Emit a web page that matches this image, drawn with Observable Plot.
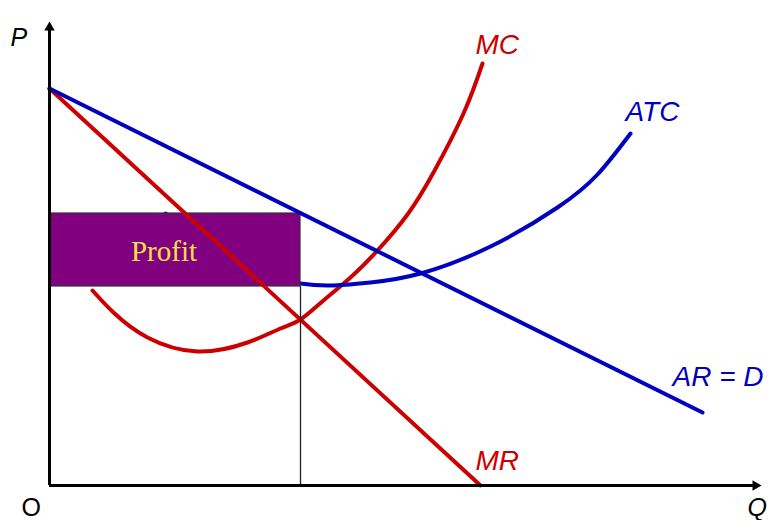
<!DOCTYPE html>
<html>
<head>
<meta charset="utf-8">
<script src="https://cdn.jsdelivr.net/npm/d3@7"></script>
<script src="https://cdn.jsdelivr.net/npm/@observablehq/plot@0.6"></script>
<style>
  html, body { margin: 0; padding: 0; background: #ffffff; }
  #chart { width: 769px; height: 520px; overflow: hidden; }
</style>
</head>
<body>
<div id="chart"></div>
<script>
// Quantity (Q) and price (P) values
const arQ = [0, 65.3];
const arP = [39.7, 7.3];

const mrQ = [0, 43.1];
const mrP = [39.7, 0];

const mcQ = [4.3, 6.4, 9.8, 14.8, 19.8, 23.1, 25.1, 27.4, 30.1, 32.8, 35.8, 38.4, 41.4, 43.3];
const mcP = [19.5, 17.3, 14.8, 13.4, 14.3, 15.7, 16.6, 18.5, 20.8, 23.5, 27.1, 31.3, 37.2, 42.2];

const atcQ = [11.6, 15.1, 20.1, 25.1, 28.4, 32.1, 37.1, 44.1, 50.8, 54.8, 58.1];
const atcP = [27.2, 24.2, 21.5, 20.2, 20.0, 20.3, 21.2, 23.9, 27.8, 31.1, 35.2];

// Profit-maximising output and price / average cost
const qStar = 25.1;
const priceStar = 27.2;
const atcStar = 19.9;

// Axis extents
const qMax = 71.8;
const pMax = 47;

// Labels
const labelText = ["MC", "ATC", "AR = D", "MR"];
const labelQ = [42.6, 57.6, 62.3, 42.6];
const labelP = [43.2, 36.5, 10.0, 1.6];
const labelColor = ["#cc0000", "#0000c0", "#0000c0", "#cc0000"];

const axisText = ["P", "O", "Q"];
const axisQ = [-3.9, -2.8, 69.8];
const axisP = [44.0, -3.0, -3.0];
const axisStyle = ["italic", "normal", "italic"];

const profitText = "Profit";

const toPts = (qs, ps) => qs.map((q, i) => ({q, p: ps[i]}));
const ar = toPts(arQ, arP);
const mr = toPts(mrQ, mrP);
const mc = toPts(mcQ, mcP);
const atc = toPts(atcQ, atcP);
const labels = labelText.map((t, i) => ({t, q: labelQ[i], p: labelP[i], c: labelColor[i]}));
const axisLabels = axisText.map((t, i) => ({t, q: axisQ[i], p: axisP[i], s: axisStyle[i]}));

const red = "#cc0000";
const blue = "#0000c0";

const chart = Plot.plot({
  width: 769,
  height: 520,
  margin: 0,
  style: {background: "#ffffff", overflow: "visible"},
  x: {domain: [0, qMax], range: [49, 767], axis: null},
  y: {domain: [0, pMax], range: [485, 15], axis: null},
  marks: [
    // curves
    Plot.line(mc, {x: "q", y: "p", curve: "natural", stroke: red, strokeWidth: 4, strokeLinecap: "round"}),
    Plot.line(atc, {x: "q", y: "p", curve: "natural", stroke: blue, strokeWidth: 4, strokeLinecap: "round"}),
    // profit rectangle
    Plot.rect([{x1: 0, x2: qStar, y1: atcStar, y2: priceStar}], {
      x1: "x1", x2: "x2", y1: "y1", y2: "y2",
      fill: "#800080", stroke: "#333333", strokeWidth: 1.2
    }),
    Plot.line(mr, {x: "q", y: "p", stroke: red, strokeWidth: 4, strokeLinecap: "round"}),
    Plot.line(ar, {x: "q", y: "p", stroke: blue, strokeWidth: 4, strokeLinecap: "round"}),
    // vertical guide at Q*
    Plot.ruleX([qStar], {y1: 0, y2: atcStar, stroke: "#222222", strokeWidth: 1.3}),
    // axes
    Plot.ruleX([0], {y1: 0, y2: pMax - 1, stroke: "#000000", strokeWidth: 3}),
    Plot.ruleY([0], {x1: 0, x2: qMax - 1, stroke: "#000000", strokeWidth: 3}),
    Plot.dot([{q: 0, p: pMax - 1.2}], {x: "q", y: "p", symbol: "triangle2", r: 5, fill: "#000000", stroke: "none"}),
    Plot.dot([{q: qMax - 1.2, p: 0}], {x: "q", y: "p", symbol: "triangle2", r: 5, rotate: 90, fill: "#000000", stroke: "none"}),
    // profit label
    Plot.text([profitText], {
      x: () => qStar / 2 - 1.1, y: () => 22.5, text: d => d,
      fill: "#ffe040", fontSize: 29, fontFamily: "Liberation Serif", lineAnchor: "bottom", textAnchor: "middle"
    }),
    // curve labels
    Plot.text(labels, {
      x: "q", y: "p", text: "t", fill: "c",
      fontSize: 28, fontStyle: "italic", fontFamily: "Liberation Sans",
      textAnchor: "start", lineAnchor: "bottom"
    }),
    Plot.text(axisLabels.filter(d => d.s === "italic"), {
      x: "q", y: "p", text: "t", fill: "#000000",
      fontSize: 25, fontStyle: "italic", fontFamily: "Liberation Sans",
      textAnchor: "start", lineAnchor: "bottom"
    }),
    Plot.text(axisLabels.filter(d => d.s === "normal"), {
      x: "q", y: "p", text: "t", fill: "#000000",
      fontSize: 25, fontFamily: "Liberation Sans",
      textAnchor: "start", lineAnchor: "bottom"
    })
  ]
});
document.getElementById("chart").appendChild(chart);
</script>
</body>
</html>
